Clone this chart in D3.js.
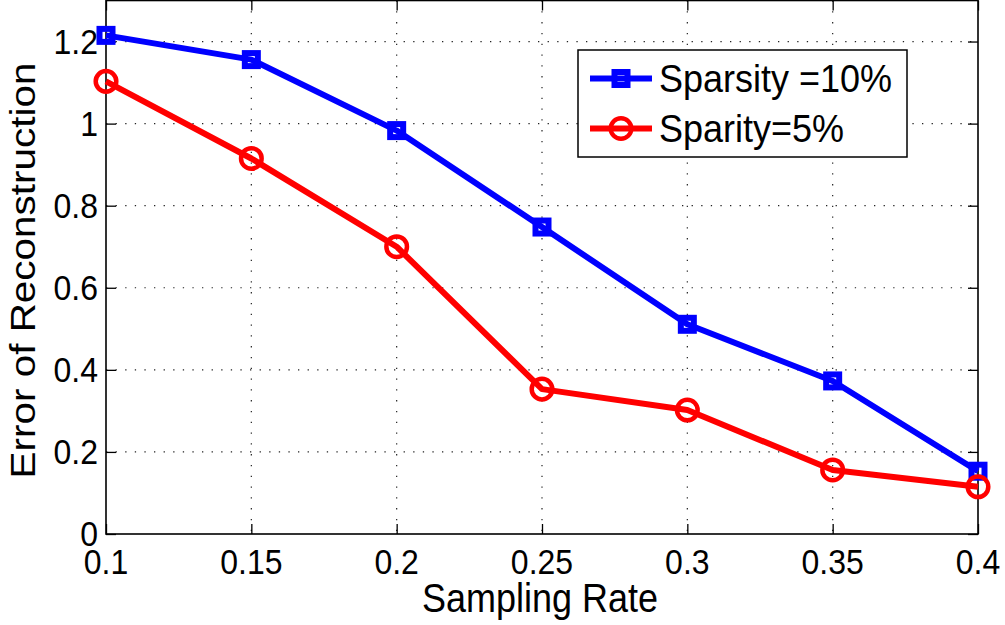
<!DOCTYPE html>
<html>
<head>
<meta charset="utf-8">
<script src="https://cdn.jsdelivr.net/npm/d3@7"></script>
<style>
  html, body { margin: 0; padding: 0; background: #fff; }
  svg { display: block; }
  text { font-family: "Liberation Sans", Arial, Helvetica, sans-serif; fill: #000; }
</style>
</head>
<body>
<svg id="chart" width="1005" height="625"></svg>
<script>
// ---- data ----
const samplingRates = [0.1, 0.15, 0.2, 0.25, 0.3, 0.35, 0.4];
const sparsity10 = [1.215, 1.156, 0.983, 0.748, 0.511, 0.373, 0.153];
const sparsity5 = [1.103, 0.915, 0.700, 0.353, 0.302, 0.156, 0.115];
const xTicks = [0.1, 0.15, 0.2, 0.25, 0.3, 0.35, 0.4];
const xTickLabels = ["0.1", "0.15", "0.2", "0.25", "0.3", "0.35", "0.4"];
const yTicks = [0, 0.2, 0.4, 0.6, 0.8, 1, 1.2];
const yTickLabels = ["0", "0.2", "0.4", "0.6", "0.8", "1", "1.2"];
const seriesNames = ["Sparsity =10%", "Sparity=5%"];
const xTitle = "Sampling Rate";
const yTitle = "Error of Reconstruction";

// ---- layout ----
const W = 1005, H = 625;
const margin = { top: 0.5, right: 27, bottom: 91, left: 106 };
const iw = W - margin.left - margin.right;
const ih = H - margin.top - margin.bottom;

const svg = d3.select("#chart");
const g = svg.append("g").attr("transform", `translate(${margin.left},${margin.top})`);

const x = d3.scaleLinear().domain([0.1, 0.4]).range([0, iw]);
const y = d3.scaleLinear().domain([0, 1.3]).range([ih, 0]);

// grid
g.append("g").selectAll("line").data(yTicks.filter(d => d > 0)).join("line")
  .attr("x1", 0).attr("x2", iw)
  .attr("y1", d => y(d)).attr("y2", d => y(d))
  .attr("stroke", "#222").attr("stroke-width", 1.2)
  .attr("stroke-dasharray", "1.3,8.3");
g.append("g").selectAll("line").data(xTicks.slice(1, -1)).join("line")
  .attr("x1", d => x(d)).attr("x2", d => x(d))
  .attr("y1", 0).attr("y2", ih)
  .attr("stroke", "#222").attr("stroke-width", 1.2)
  .attr("stroke-dasharray", "1.3,9.5");

// axes using d3 axis, ticks inward
const tickLen = 10;
const xAxisB = d3.axisBottom(x).tickValues(xTicks).tickSize(-tickLen).tickFormat("");
const xAxisT = d3.axisTop(x).tickValues(xTicks).tickSize(-tickLen).tickFormat("");
const yAxisL = d3.axisLeft(y).tickValues(yTicks).tickSize(-tickLen).tickFormat("");
const yAxisR = d3.axisRight(y).tickValues(yTicks).tickSize(-tickLen).tickFormat("");

function styleAxis(sel) {
  sel.selectAll("path").attr("stroke", "#000").attr("stroke-width", 1.5);
  sel.selectAll("line").attr("stroke", "#000").attr("stroke-width", 1.3);
  sel.select(".domain").attr("d", null);
}
g.append("g").attr("transform", `translate(0,${ih})`).call(xAxisB).call(styleAxis);
g.append("g").call(xAxisT).call(styleAxis);
g.append("g").call(yAxisL).call(styleAxis);
g.append("g").attr("transform", `translate(${iw},0)`).call(yAxisR).call(styleAxis);

// box
g.append("rect").attr("x", 0).attr("y", 0).attr("width", iw).attr("height", ih)
  .attr("fill", "none").attr("stroke", "#000").attr("stroke-width", 1.6);

// tick labels (slightly vertically stretched like the reference)
const tickFont = 32, tickStretch = 1.1;
g.append("g").selectAll("text").data(xTicks).join("text")
  .attr("transform", d => `translate(${x(d)},${ih + 40}) scale(1,${tickStretch})`)
  .attr("text-anchor", "middle")
  .attr("font-size", tickFont)
  .text((d, i) => xTickLabels[i]);
g.append("g").selectAll("text").data(yTicks).join("text")
  .attr("transform", d => `translate(-8,${y(d) + 12}) scale(1,${tickStretch})`)
  .attr("text-anchor", "end")
  .attr("font-size", tickFont)
  .text((d, i) => yTickLabels[i]);

// axis titles
svg.append("text")
  .attr("transform", `translate(${margin.left + iw / 2 - 2},${612}) scale(1,1.15)`)
  .attr("text-anchor", "middle")
  .attr("font-size", 36)
  .text(xTitle);
svg.append("text")
  .attr("transform", `translate(35,${270.5}) rotate(-90)`)
  .attr("text-anchor", "middle")
  .attr("font-size", 35)
  .attr("textLength", 416)
  .attr("lengthAdjust", "spacingAndGlyphs")
  .text(yTitle);

// series
const line = d3.line().x((d, i) => x(samplingRates[i])).y(d => y(d));
const blue = "#0000ff", red = "#ff0000";

function drawSquares(sel, data, color) {
  sel.selectAll("rect").data(data).join("rect")
    .attr("x", (d, i) => x(samplingRates[i]) - 6.5)
    .attr("y", d => y(d) - 6.5)
    .attr("width", 13).attr("height", 13)
    .attr("fill", "none").attr("stroke", color).attr("stroke-width", 6);
}
function drawCircles(sel, data, color) {
  sel.selectAll("circle").data(data).join("circle")
    .attr("cx", (d, i) => x(samplingRates[i]))
    .attr("cy", d => y(d))
    .attr("r", 10.3)
    .attr("fill", "none").attr("stroke", color).attr("stroke-width", 4.5);
}

const gb = g.append("g");
gb.append("path").datum(sparsity10).attr("d", line)
  .attr("fill", "none").attr("stroke", blue).attr("stroke-width", 6).attr("stroke-linejoin", "round");
drawSquares(gb.append("g"), sparsity10, blue);

const gr = g.append("g");
gr.append("path").datum(sparsity5).attr("d", line)
  .attr("fill", "none").attr("stroke", red).attr("stroke-width", 6).attr("stroke-linejoin", "round");
drawCircles(gr.append("g"), sparsity5, red);

// legend
const lg = svg.append("g");
lg.append("rect").attr("x", 578).attr("y", 50).attr("width", 329).attr("height", 107)
  .attr("fill", "#fff").attr("stroke", "#000").attr("stroke-width", 1.5);
const rows = [78.5, 128.5];
// row 1
lg.append("line").attr("x1", 590).attr("x2", 652).attr("y1", rows[0]).attr("y2", rows[0])
  .attr("stroke", blue).attr("stroke-width", 6);
lg.append("rect").attr("x", 621 - 6.5).attr("y", rows[0] - 6.5).attr("width", 13).attr("height", 13)
  .attr("fill", "none").attr("stroke", blue).attr("stroke-width", 6);
// row 2
lg.append("line").attr("x1", 590).attr("x2", 652).attr("y1", rows[1]).attr("y2", rows[1])
  .attr("stroke", red).attr("stroke-width", 6);
lg.append("circle").attr("cx", 621).attr("cy", rows[1]).attr("r", 10.3)
  .attr("fill", "none").attr("stroke", red).attr("stroke-width", 4.5);
seriesNames.forEach((name, i) => {
  lg.append("text")
    .attr("transform", `translate(659,${rows[i] + 13.5}) scale(1,1.09)`)
    .attr("font-size", 36)
    .text(name);
});
</script>
</body>
</html>
